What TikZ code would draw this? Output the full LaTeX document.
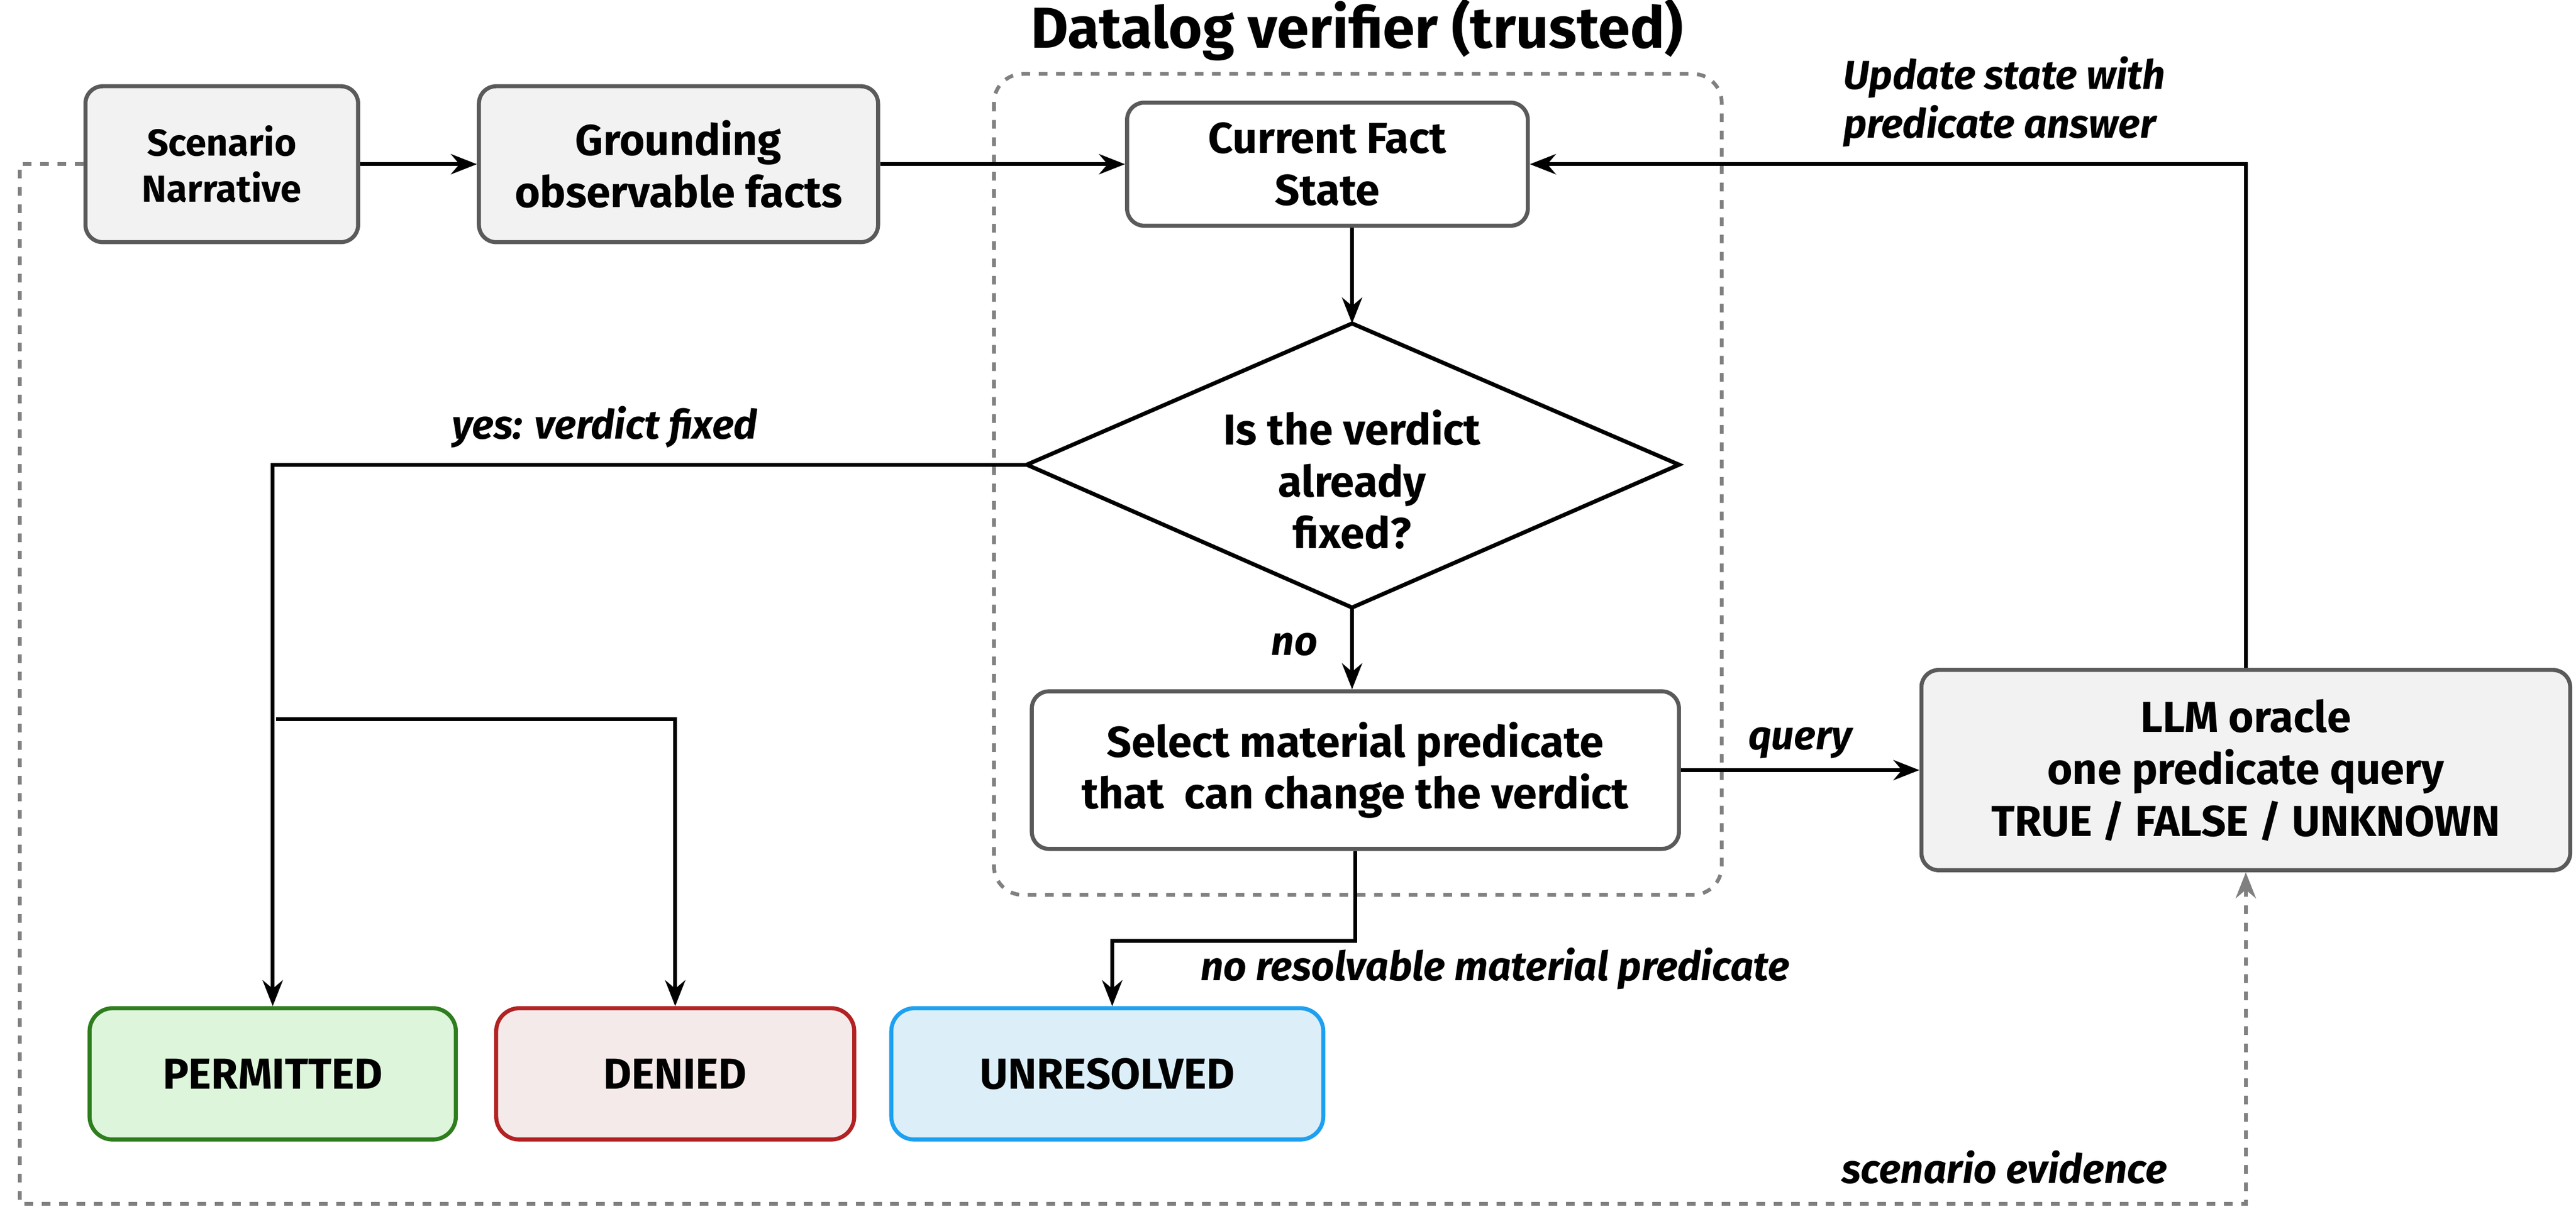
\documentclass[tikz,border=0pt]{standalone}
\usepackage{fontspec}
\setmainfont{Fira Sans}
\usetikzlibrary{arrows.meta}
\definecolor{boxgray}{HTML}{F2F2F2}
\definecolor{edgegray}{HTML}{5A5A5A}
\definecolor{okgreen}{HTML}{2E7D1E}
\definecolor{okfill}{HTML}{DDF5DA}
\definecolor{nored}{HTML}{B22222}
\definecolor{nofill}{HTML}{F5EAEA}
\definecolor{unblue}{HTML}{1EA0F0}
\definecolor{unfill}{HTML}{DCEFF8}
\begin{document}
\begin{tikzpicture}[x=0.02cm, y=-0.02cm, font=\bfseries\fontsize{15}{18}\selectfont,
	box/.style={draw=edgegray, line width=1.4pt, rounded corners=6pt, fill=boxgray, align=center, inner sep=2pt},
	result/.style={draw, line width=1.4pt, rounded corners=8pt, align=center, minimum height=1.6cm},
	flow/.style={-{Stealth[length=9pt,width=7pt]}, line width=1.3pt},
	lab/.style={font=\bfseries\itshape\fontsize{14}{17}\selectfont, align=left}]
	\useasboundingbox (0,0) rectangle (1568,736);
	% verifier frame
	\draw[gray, dashed, line width=1.3pt, rounded corners=10pt] (605,45) rectangle (1048,545);
	\node (title) at (826,18) {\fontsize{20}{24}\selectfont Datalog verifier (trusted)};
	% nodes
	\node[box, minimum width=3.32cm, minimum height=1.9cm, font=\bfseries\fontsize{13}{16}\selectfont] (scenario) at (135,100) {Scenario\\Narrative};
	\node[box, minimum width=4.86cm, minimum height=1.9cm] (grounding) at (413,100) {Grounding\\observable facts};
	\node[box, fill=white, minimum width=4.88cm, minimum height=1.5cm] (current) at (808,100) {Current Fact\\State};
	% decision diamond
	\coordinate (fixN) at (823,197);
	\coordinate (fixE) at (1022,283);
	\coordinate (fixS) at (823,370);
	\coordinate (fixW) at (625,283);
	\draw[line width=1.4pt, line join=miter] (fixN) -- (fixE) -- (fixS) -- (fixW) -- cycle;
	\node[align=center] (fixed) at (823,292) {Is the verdict\\already\\fixed?};
	\node[box, fill=white, minimum width=7.88cm, minimum height=1.92cm] (select) at (825,469) {Select material predicate\\that\ \ can change the verdict};
	\node[box, minimum width=7.9cm, minimum height=2.44cm] (oracle) at (1367,469) {LLM oracle\\one predicate query\\TRUE / FALSE / UNKNOWN};
	\node[result, draw=okgreen, fill=okfill, minimum width=4.46cm] (permitted) at (166,654) {PERMITTED};
	\node[result, draw=nored, fill=nofill, minimum width=4.36cm] (denied) at (411,654) {DENIED};
	\node[result, draw=unblue, fill=unfill, minimum width=5.26cm] (unresolved) at (674,654) {UNRESOLVED};
	\coordinate (split) at (168,438);
	\coordinate (bend) at (677,573);
	% connectors
	\draw[flow] (scenario) -- (grounding);
	\draw[flow] (grounding) -- (current);
	\draw[flow] (current.south -| fixN) -- (fixN);
	\draw[flow] (fixS) -- node[lab, left=8pt, pos=0.45] {no} (select.north -| fixS);
	\draw[flow] (fixW) -| (permitted.north);
	\node[lab] at (368,260) {yes: verdict fixed};
	\draw[flow] (split) -| (denied.north);
	\draw[flow] (select.south) |- (bend) -- (unresolved.north -| bend);
	\node[lab] at (910,590) {no resolvable material predicate};
	\draw[flow] (select) -- node[lab, above] {query} (oracle);
	\draw[flow] (oracle.north) |- (current);
	\node[lab] at (1220,62) {Update state with\\predicate answer};
	\draw[flow, gray, dashed] (scenario.west) -- (12,100) -- (12,733) -| (oracle.south);
	\node[lab] at (1220,711) {scenario evidence};
\end{tikzpicture}
\end{document}
